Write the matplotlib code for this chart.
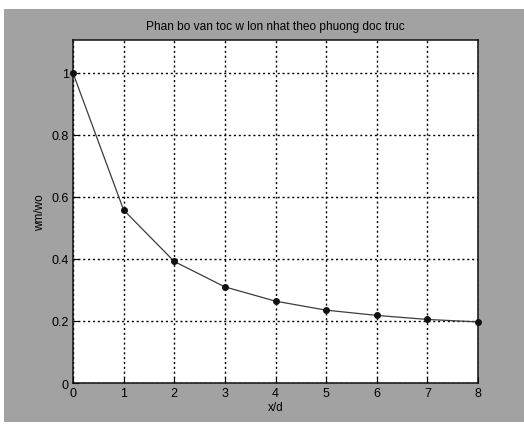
import matplotlib
matplotlib.use('Agg')
import matplotlib.pyplot as plt
from matplotlib.patches import Rectangle

# phan bo van toc doc truc
xd = [0, 1, 2, 3, 4, 5, 6, 7, 8]
wm_wo = [1.0, 0.558, 0.392, 0.31, 0.264, 0.235, 0.218, 0.205, 0.197]
xticks = [0, 1, 2, 3, 4, 5, 6, 7, 8]
yticks = [0, 0.2, 0.4, 0.6, 0.8, 1]
yticklabels = ['0', '0.2', '0.4', '0.6', '0.8', '1']

plt.rcParams['font.family'] = ['Liberation Sans', 'DejaVu Sans']

fig = plt.figure(figsize=(5.24, 4.27), dpi=100, facecolor='white')
# nen xam cua cua so figure
fig.add_artist(Rectangle((0.0076, 0.0094), 1.0, 0.967, transform=fig.transFigure,
                         facecolor='#a2a2a2', edgecolor='none', zorder=-5))

ax = fig.add_axes([0.1393, 0.1007, 0.773, 0.803])
ax.set_zorder(1)
ax.set_facecolor('white')
ax.plot(xd, wm_wo, color='#3c3c3c', lw=0.9, marker='o', ms=4,
        mfc='#111111', mec='#111111', clip_on=False, zorder=3)

ax.set_xlim(0, 8)
ax.set_ylim(0, 1.106)
ax.set_xticks(xticks)
ax.set_yticks(yticks)
ax.set_yticklabels(yticklabels)
ax.grid(True, color='black', linestyle=(0, (1.5, 2)), linewidth=1.0)
ax.tick_params(direction='in', length=4, labelsize=9, colors='black', pad=3)
for s in ax.spines.values():
    s.set_linewidth(1.1)
    s.set_color('#111111')

ax.set_title('Phan bo van toc w lon nhat theo phuong doc truc', fontsize=8.6, pad=8)
ax.set_xlabel('x/d', fontsize=8.5, labelpad=1)
ax.set_ylabel('wm/wo', fontsize=8.5, labelpad=4)

fig.savefig('out.png', dpi=100, facecolor=fig.get_facecolor())
